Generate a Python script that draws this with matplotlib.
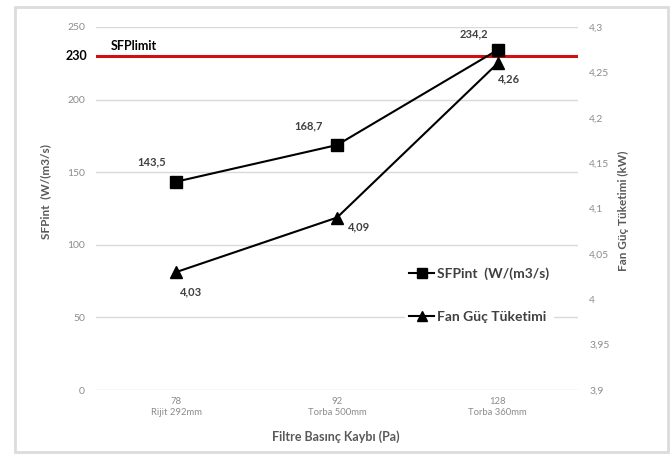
import matplotlib
matplotlib.use('Agg')
import matplotlib.pyplot as plt
from matplotlib.patches import Rectangle
from matplotlib.lines import Line2D

plt.rcParams['font.family'] = ['Lato', 'DejaVu Sans']

categories = ['78\nRijit 292mm', '92\nTorba 500mm', '128\nTorba 360mm']
sfp_values = [143.5, 168.7, 234.2]
fan_values = [4.03, 4.09, 4.26]
sfp_labels = ['143,5', '168,7', '234,2']
fan_labels = ['4,03', '4,09', '4,26']
sfp_limit = 230
left_ticks = [0, 50, 100, 150, 200, 250]
right_ticks = [3.9, 3.95, 4.0, 4.05, 4.1, 4.15, 4.2, 4.25, 4.3]

W, H = 670, 455
fig = plt.figure(figsize=(W / 100, H / 100), dpi=100)
ax = fig.add_axes([96 / W, 1 - 390 / H, (578 - 96) / W, (390 - 27) / H])
ax2 = ax.twinx()

# outer frame
fig.patches.append(Rectangle((15 / W, 3 / H), 653 / W, 445 / H, transform=fig.transFigure,
                             fill=False, edgecolor='#dcdcdc', linewidth=2))

x = list(range(len(categories)))
ax.set_xlim(-0.5, len(categories) - 0.5)
ax.set_ylim(0, 250)
ax2.set_ylim(3.9, 4.3)

ax.set_yticks(left_ticks)
ax.set_yticklabels([str(t) for t in left_ticks], color='#8c8c8c', fontsize=7.5)
ax2.set_yticks(right_ticks)
ax2.set_yticklabels([('%g' % t).replace('.', ',') for t in right_ticks], color='#8c8c8c', fontsize=7.5)
ax.set_xticks(x)
ax.set_xticklabels(categories, color='#8c8c8c', fontsize=6.8, linespacing=1.35)
ax.tick_params(length=0, pad=8)
ax2.tick_params(length=0, pad=8)
ax.tick_params(axis='x', pad=5)

for a in (ax, ax2):
    for s in a.spines.values():
        s.set_visible(False)
ax.yaxis.grid(True, color='#d9d9d9', linewidth=1)
ax.set_axisbelow(True)

ax.axhline(sfp_limit, color='#d01010', linewidth=2.2, zorder=2)
ax.text(0.03, sfp_limit + 3, 'SFPlimit', transform=ax.get_yaxis_transform(),
        fontsize=9, fontweight='bold', color='black', va='bottom', ha='left')
ax.text(-0.017, sfp_limit, str(sfp_limit), transform=ax.get_yaxis_transform(),
        fontsize=9, fontweight='bold', color='black', va='center', ha='right')

ax.plot(x, sfp_values, color='black', linewidth=1.5, marker='s', markersize=8, zorder=4)
ax2.plot(x, fan_values, color='black', linewidth=1.5, marker='^', markersize=8, zorder=4)

sfp_off = [(-25, 20), (-28, 19), (-24, 16)]
fan_off = [(15, -20), (22, -9), (11, -16)]
for i in x:
    ax.annotate(sfp_labels[i], (i, sfp_values[i]), xytext=sfp_off[i], textcoords='offset pixels',
                ha='center', va='center', fontsize=8, fontweight='bold', color='#404040')
    ax2.annotate(fan_labels[i], (i, fan_values[i]), xytext=fan_off[i], textcoords='offset pixels',
                 ha='center', va='center', fontsize=8, fontweight='bold', color='#404040')

fig.text(336 / W, 1 - 437 / H, 'Filtre Basınç Kaybı (Pa)', ha='center', va='center',
         fontsize=9, fontweight='bold', color='#595959')
fig.text(46 / W, 1 - 192 / H, 'SFPint  (W/(m3/s)', rotation=90, ha='center', va='center',
         fontsize=8.5, fontweight='bold', color='#595959')
fig.text(623 / W, 1 - 211 / H, 'Fan Güç Tüketimi (kW)', rotation=90, ha='center', va='center',
         fontsize=8.5, fontweight='bold', color='#595959')

handles = [Line2D([], [], color='black', linewidth=1.5, marker='s', markersize=7),
           Line2D([], [], color='black', linewidth=1.5, marker='^', markersize=7)]
leg = ax.legend(handles, ['SFPint  (W/(m3/s)', 'Fan Güç Tüketimi'],
                loc='center left', bbox_to_anchor=(398 / W, 1 - 295 / H),
                bbox_transform=fig.transFigure, frameon=True, fancybox=False,
                edgecolor='white', facecolor='white', framealpha=1,
                fontsize=10, labelspacing=2.2, handlelength=1.8, handletextpad=0.2,
                borderpad=0.3)
for t in leg.get_texts():
    t.set_color('#404040')
    t.set_fontweight('bold')

fig.savefig('out.png', dpi=100)
